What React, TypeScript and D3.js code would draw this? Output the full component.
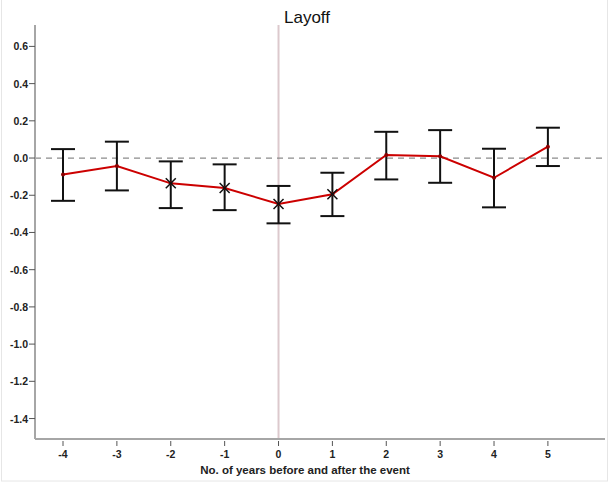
import React from "react";
import * as d3 from "d3";

const years = [-4, -3, -2, -1, 0, 1, 2, 3, 4, 5];
const estimates = [-0.088, -0.043, -0.136, -0.161, -0.247, -0.195, 0.016, 0.009, -0.106, 0.061];
const upper = [0.048, 0.088, -0.018, -0.034, -0.15, -0.079, 0.141, 0.15, 0.05, 0.163];
const lower = [-0.23, -0.174, -0.269, -0.28, -0.351, -0.312, -0.115, -0.133, -0.265, -0.043];
const significant = [false, false, true, true, true, true, false, false, false, false];
const yTicks = [0.6, 0.4, 0.2, 0.0, -0.2, -0.4, -0.6, -0.8, -1.0, -1.2, -1.4];
const title = "Layoff";
const xTitle = "No. of years before and after the event";

const W = 610;
const H = 484;
const left = 35;
const right = 605;
const top = 25;
const bottom = 439;

export default function App() {
  const x = d3.scaleLinear().domain([-4.52, 6.06]).range([left, right]);
  const y = d3.scaleLinear().domain([-1.51, 0.715]).range([bottom, top]);
  const line = d3
    .line<number>()
    .x((_, i) => x(years[i]))
    .y((d) => y(d));
  const cap = 12;
  const mk = 5;
  const font = "'Liberation Sans Narrow', 'Liberation Sans', Arial, sans-serif";

  return (
    <svg
      width={W}
      height={H}
      style={{ position: "absolute", left: 0, top: 0, background: "#fff" }}
      fontFamily={font}
    >
      <rect x={1.5} y={-2} width={606} height={483} fill="none" stroke="#e6e6e6" strokeWidth={1} />
      {/* zero reference lines */}
      <line x1={x(0)} x2={x(0)} y1={top} y2={bottom} stroke="#dcc9cd" strokeWidth={2} />
      <line
        x1={left}
        x2={right}
        y1={y(0)}
        y2={y(0)}
        stroke="#8c8c8c"
        strokeWidth={1.2}
        strokeDasharray="6,5"
      />
      {/* axes */}
      <line x1={left} x2={left} y1={top} y2={bottom} stroke="#a6a6a6" strokeWidth={2} />
      <line x1={left} x2={right} y1={bottom} y2={bottom} stroke="#a6a6a6" strokeWidth={2} />
      {yTicks.map((t) => (
        <g key={t}>
          <line x1={left - 6} x2={left} y1={y(t)} y2={y(t)} stroke="#555" strokeWidth={1} />
          <text
            x={left - 7}
            y={y(t) + 4}
            textAnchor="end"
            fontSize={10.5}
            fontWeight="bold"
            fill="#222"
          >
            {t.toFixed(1)}
          </text>
        </g>
      ))}
      {years.map((t) => (
        <g key={t}>
          <line x1={x(t)} x2={x(t)} y1={bottom + 2} y2={bottom + 7} stroke="#555" strokeWidth={1} />
          <text
            x={x(t)}
            y={bottom + 19}
            textAnchor="middle"
            fontSize={10.5}
            fontWeight="bold"
            fill="#222"
          >
            {t}
          </text>
        </g>
      ))}
      <text x={305} y={474} textAnchor="middle" fontSize={11.5} fontWeight="bold" fill="#222">
        {xTitle}
      </text>
      <text x={307} y={23} textAnchor="middle" fontSize={17} fill="#111" fontFamily="'Liberation Sans', Arial, sans-serif">
        {title}
      </text>
      {/* error bars */}
      {years.map((t, i) => (
        <g key={"e" + t} stroke="#111" strokeWidth={2}>
          <line x1={x(t)} x2={x(t)} y1={y(upper[i])} y2={y(lower[i])} />
          <line x1={x(t) - cap} x2={x(t) + cap} y1={y(upper[i])} y2={y(upper[i])} />
          <line x1={x(t) - cap} x2={x(t) + cap} y1={y(lower[i])} y2={y(lower[i])} />
        </g>
      ))}
      <path d={line(estimates) || ""} fill="none" stroke="#cc0000" strokeWidth={2} />
      {years.map((t, i) => (
        <g key={"m" + t}>
          <circle cx={x(t)} cy={y(estimates[i])} r={2} fill="#8b0000" />
          {significant[i] && (
            <g stroke="#111" strokeWidth={1.5}>
              <line x1={x(t) - mk} x2={x(t) + mk} y1={y(estimates[i]) - mk} y2={y(estimates[i]) + mk} />
              <line x1={x(t) - mk} x2={x(t) + mk} y1={y(estimates[i]) + mk} y2={y(estimates[i]) - mk} />
            </g>
          )}
        </g>
      ))}
    </svg>
  );
}
